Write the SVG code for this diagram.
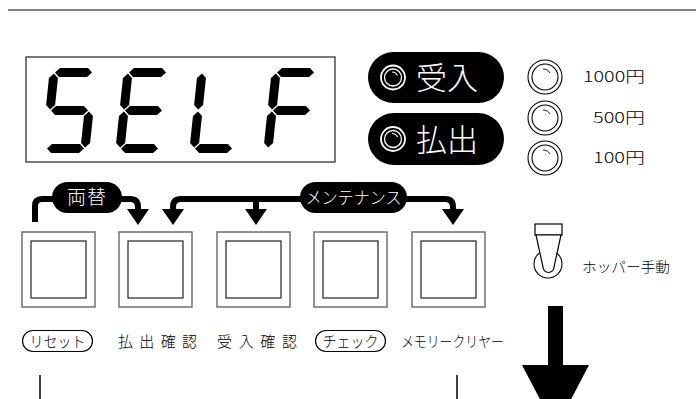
<svg xmlns="http://www.w3.org/2000/svg" width="696" height="399" viewBox="0 0 696 399">
<style>
.jp{font-family:"Noto Sans CJK JP","Noto Sans",sans-serif;font-weight:300;}
.btno{fill:#fff;stroke:#707070;stroke-width:1.5;}
.btni{fill:#fff;stroke:#222;stroke-width:1.2;}
.ln{fill:none;stroke:#000;stroke-width:6;}
.ring{fill:none;stroke:#000;stroke-width:1.1;}
.wring{fill:none;stroke:#fff;stroke-width:1.8;}
</style>
<defs>
<polygon id="sa" points="5.5,4.5 10,0 38,0 42.5,4.5 38,9 10,9"/>
<polygon id="sg" points="5.5,42.5 10,38 38,38 42.5,42.5 38,47 10,47"/>
<polygon id="sd" points="5.5,80.5 10,76 38,76 42.5,80.5 38,85 10,85"/>
<polygon id="sf" points="4.5,5.5 9,10 9,37 4.5,41.5 0,37 0,10"/>
<polygon id="sb" points="43.5,5.5 48,10 48,37 43.5,41.5 39,37 39,10"/>
<polygon id="se" points="4.5,43.5 9,48 9,75 4.5,79.5 0,75 0,48"/>
<polygon id="sc" points="43.5,43.5 48,48 48,75 43.5,79.5 39,75 39,48"/>
<marker id="ah" markerWidth="16" markerHeight="22" refX="0" refY="11" orient="auto" markerUnits="userSpaceOnUse" viewBox="0 0 16 22"><polygon points="0,0 16,11 0,22" fill="#000"/></marker>
<g id="coin"><circle r="17" class="ring"/><circle r="13" class="ring"/><path d="M-2,-8 A8,8 0 0 1 5,-4" fill="none" stroke="#000" stroke-width="0.9"/></g>
<g id="lamp"><circle r="12" class="wring"/><circle r="8.5" fill="none" stroke="#fff" stroke-width="1.3"/><path d="M-1,-5.5 A6,6 0 0 1 4.5,-2" fill="none" stroke="#fff" stroke-width="1.2"/></g>
</defs>

<line x1="8" y1="10" x2="696" y2="10" stroke="#808080" stroke-width="2"/>

<g id="display">
<rect x="26" y="57" width="309" height="105" fill="#fff" stroke="#333" stroke-width="1.3"/>
<g transform="translate(50,68) skewX(-6)"><use href="#sa"/><use href="#sf"/><use href="#sg"/><use href="#sc"/><use href="#sd"/></g>
<g transform="translate(124,68) skewX(-6)"><use href="#sa"/><use href="#sf"/><use href="#sg"/><use href="#se"/><use href="#sd"/></g>
<g transform="translate(198,68) skewX(-6)"><use href="#sf"/><use href="#se"/><use href="#sd"/></g>
<g transform="translate(272,68) skewX(-6)"><use href="#sa"/><use href="#sf"/><use href="#sg"/><use href="#se"/></g>
</g>

<g id="lamp-ukeire">
<rect x="368" y="52" width="136" height="51" rx="25.5" fill="#000"/>
<use href="#lamp" x="393" y="77.5"/>
<text x="416" y="89" class="jp" font-size="31" fill="#fff">受入</text>
</g>
<g id="lamp-haraidashi">
<rect x="368" y="113" width="136" height="52" rx="26" fill="#000"/>
<use href="#lamp" x="393" y="139"/>
<text x="416" y="151" class="jp" font-size="31" fill="#fff">払出</text>
</g>

<g id="coin-1000"><use href="#coin" x="545" y="77"/><text x="583" y="82" class="jp" font-size="15" textLength="62" lengthAdjust="spacingAndGlyphs">1000円</text></g>
<g id="coin-500"><use href="#coin" x="545" y="118"/><text x="593" y="123" class="jp" font-size="15" textLength="52" lengthAdjust="spacingAndGlyphs">500円</text></g>
<g id="coin-100"><use href="#coin" x="545" y="158"/><text x="593" y="163" class="jp" font-size="15" textLength="52" lengthAdjust="spacingAndGlyphs">100円</text></g>

<g id="connectors">
<path class="ln" d="M35,222 V206 Q35,199 42,199 H130 Q138,199 138,207 V209" marker-end="url(#ah)"/>
<path class="ln" d="M173,209 V207 Q173,199 181,199 H445 Q453,199 453,207 V209" marker-end="url(#ah)"/>
<path class="ln" d="M173,207 V209" marker-end="url(#ah)"/>
<path class="ln" d="M256,199 V209" marker-end="url(#ah)"/>
<line x1="40" y1="375" x2="40" y2="399" stroke="#000" stroke-width="1.5"/>
<line x1="457" y1="375" x2="457" y2="399" stroke="#000" stroke-width="1.5"/>
</g>

<g id="label-ryougae">
<rect x="52" y="182" width="70" height="31" rx="15.5" fill="#000"/>
<text x="87" y="204" class="jp" font-size="19" fill="#fff" text-anchor="middle" letter-spacing="1">両替</text>
</g>
<g id="label-maintenance">
<rect x="300" y="182" width="107" height="31" rx="15.5" fill="#000"/>
<text x="353.5" y="204" class="jp" font-size="17" fill="#fff" text-anchor="middle" textLength="96" lengthAdjust="spacingAndGlyphs">メンテナンス</text>
</g>

<g id="btn-1"><rect x="22" y="232" width="73" height="75" class="btno"/><rect x="31" y="241" width="55" height="57" class="btni"/></g>
<g id="btn-2"><rect x="119" y="232" width="73" height="75" class="btno"/><rect x="128" y="241" width="55" height="57" class="btni"/></g>
<g id="btn-3"><rect x="217" y="232" width="73" height="75" class="btno"/><rect x="226" y="241" width="55" height="57" class="btni"/></g>
<g id="btn-4"><rect x="314" y="232" width="73" height="75" class="btno"/><rect x="323" y="241" width="55" height="57" class="btni"/></g>
<g id="btn-5"><rect x="412" y="232" width="73" height="75" class="btno"/><rect x="421" y="241" width="55" height="57" class="btni"/></g>

<g id="label-reset">
<rect x="22.5" y="330.5" width="70" height="21" rx="10.5" fill="none" stroke="#000" stroke-width="1.2"/>
<text x="57.5" y="347" class="jp" font-size="15" text-anchor="middle" textLength="56" lengthAdjust="spacingAndGlyphs">リセット</text>
</g>
<g id="label-harai"><text x="118" y="347" class="jp" font-size="15" textLength="79" lengthAdjust="spacing">払出確認</text></g>
<g id="label-uke"><text x="217" y="347" class="jp" font-size="15" textLength="80" lengthAdjust="spacing">受入確認</text></g>
<g id="label-check">
<rect x="315.5" y="330.5" width="70" height="21" rx="10.5" fill="none" stroke="#000" stroke-width="1.2"/>
<text x="350.5" y="347" class="jp" font-size="15" text-anchor="middle" textLength="56" lengthAdjust="spacingAndGlyphs">チェック</text>
</g>
<g id="label-memory"><text x="401" y="347" class="jp" font-size="15" textLength="103" lengthAdjust="spacingAndGlyphs">メモリークリヤー</text></g>

<g id="hopper-switch">
<circle cx="548" cy="264" r="14" class="ring"/>
<rect x="535" y="224" width="27" height="11" fill="#fff" stroke="#000" stroke-width="1.2"/>
<path d="M536,235 L543,267 A5.5,5.5 0 0 0 554,267 L561,235 Z" fill="#fff" stroke="#000" stroke-width="1.2"/>
<text x="582" y="272" class="jp" font-size="14" textLength="88" lengthAdjust="spacingAndGlyphs">ホッパー手動</text>
</g>

<g id="big-arrow">
<polygon points="548,306 563,306 563,365 589,365 555.5,429 522,365 548,365" fill="#000"/>
</g>
</svg>
